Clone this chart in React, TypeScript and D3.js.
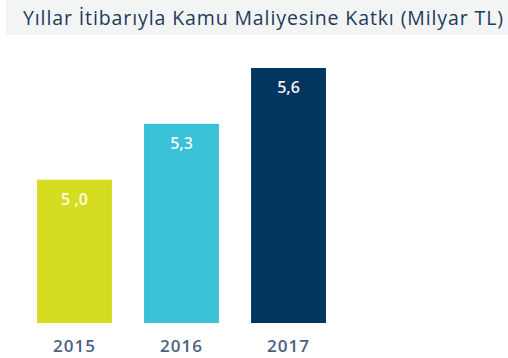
import React from "react";
import * as d3 from "d3";

const years = ["2015", "2016", "2017"];
const values = [5.0, 5.3, 5.6];
const valueLabels = ["5 ,0", "5,3", "5,6"];
const barColors = ["#d6dc1f", "#3bc1d8", "#03365f"];
const title = "Yıllar İtibarıyla Kamu Maliyesine Katkı (Milyar TL)";

const W = 508;
const H = 358;
const baseY = 323;

export default function App() {
  const x = d3
    .scaleBand<string>()
    .domain(years)
    .range([21, 342])
    .paddingInner(0.3)
    .paddingOuter(0.15);

  const y = d3.scaleLinear().domain([4.23, 5.6]).range([baseY, 68]);

  return (
    <svg
      width={W}
      height={H}
      style={{ position: "absolute", left: 0, top: 0 }}
      fontFamily="'Open Sans', 'Noto Sans', sans-serif"
    >
      <rect x={0} y={0} width={W} height={H} fill="#ffffff" />
      <rect x={6} y={0} width={W - 6} height={35} fill="#f3f4f4" />
      <text
        x={23}
        y={25}
        fontSize={19.5}
        fill="#1e3a5c"
        fontWeight={500}
        textLength={480}
        lengthAdjust="spacing"
      >
        {title}
      </text>
      {years.map((yr, i) => {
        const bx = x(yr) as number;
        const bw = x.bandwidth();
        const top = y(values[i]);
        return (
          <g key={yr}>
            <rect x={bx} y={top} width={bw} height={baseY - top} fill={barColors[i]} />
            <text
              x={bx + bw / 2}
              y={top + 25}
              textAnchor="middle"
              fontSize={16}
              fontWeight={600}
              fill="#ffffff"
              fillOpacity={0.95}
            >
              {valueLabels[i]}
            </text>
            <text
              x={bx + bw / 2}
              y={352}
              textAnchor="middle"
              fontSize={17}
              fontWeight={600}
              letterSpacing={1}
              fill="#4a6183"
            >
              {yr}
            </text>
          </g>
        );
      })}
    </svg>
  );
}
